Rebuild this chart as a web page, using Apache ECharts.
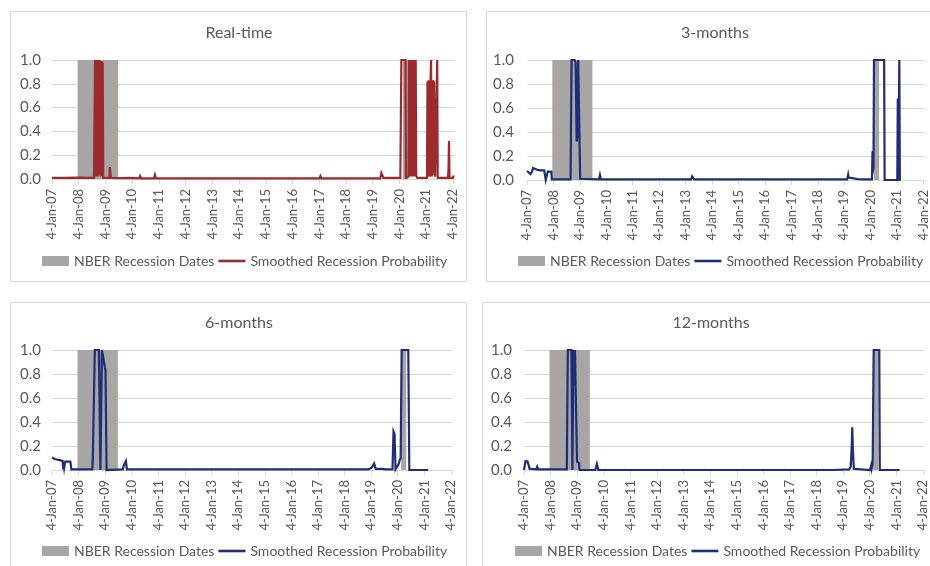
<!DOCTYPE html>
<html>
<head>
<meta charset="utf-8">
<script src="https://cdn.jsdelivr.net/npm/echarts@6/dist/echarts.min.js"></script>
<style>
  html, body { margin: 0; padding: 0; background: #ffffff; }
  #chart { width: 930px; height: 566px; }
</style>
</head>
<body>
<div id="chart"></div>
<script>
// ---- data -------------------------------------------------------------
const tickDates = ['2007-01-04','2008-01-04','2009-01-04','2010-01-04','2011-01-04','2012-01-04',
  '2013-01-04','2014-01-04','2015-01-04','2016-01-04','2017-01-04','2018-01-04','2019-01-04',
  '2020-01-04','2021-01-04','2022-01-04'];
const tickLabels = ['4-Jan-07','4-Jan-08','4-Jan-09','4-Jan-10','4-Jan-11','4-Jan-12','4-Jan-13',
  '4-Jan-14','4-Jan-15','4-Jan-16','4-Jan-17','4-Jan-18','4-Jan-19','4-Jan-20','4-Jan-21','4-Jan-22'];
const axisEndDate = '2022-02-01';

const panelTitles = ['Real-time', '3-months', '6-months', '12-months'];
const recessionName = 'NBER Recession Dates';
const probabilityName = 'Smoothed Recession Probability';

// NBER recession periods [start, end]
const recessionPeriods = [
  ['2007-12-20', '2009-06-26'],
  ['2020-02-20', '2020-04-30']
];

// smoothed recession probability, weekly observations [date, probability]
const realTime = [
  ['2007-01-04',0.01],['2007-06-14',0.01],['2007-06-21',0.015],['2007-06-28',0.01],['2008-01-10',0.012],['2008-01-17',0.008],
  ['2008-07-31',0.01],['2008-08-14',1.0],['2008-08-21',0.99],['2008-08-28',0.02],['2008-09-04',1.0],['2008-09-11',0.03],
  ['2008-09-18',1.0],['2008-09-25',0.02],['2008-10-02',1.0],['2008-10-09',0.04],['2008-10-16',1.0],['2008-10-23',0.03],
  ['2008-10-30',0.99],['2008-11-06',0.02],['2008-11-13',0.99],['2008-11-20',0.05],['2008-11-27',0.98],['2008-12-04',0.01],
  ['2009-02-26',0.01],['2009-03-05',0.1],['2009-03-12',0.1],['2009-03-19',0.01],
  ['2009-08-13',0.008],['2009-11-05',0.01],
  ['2010-04-08',0.005],['2010-04-22',0.025],['2010-05-06',0.005],
  ['2010-10-28',0.005],['2010-11-11',0.035],['2010-11-25',0.005],
  ['2011-07-28',0.005],['2011-08-11',0.015],['2011-08-25',0.005],
  ['2013-06-20',0.005],['2014-11-20',0.005],['2014-11-27',0.012],['2014-12-04',0.005],
  ['2015-07-09',0.005],['2015-07-16',0.012],['2015-07-23',0.005],
  ['2017-01-05',0.005],['2017-01-19',0.025],['2017-02-02',0.005],
  ['2019-04-18',0.005],['2019-05-02',0.05],['2019-05-16',0.03],['2019-05-30',0.01],
  ['2020-01-16',0.01],['2020-01-23',0.02],['2020-01-30',1.0],['2020-03-26',1.0],['2020-04-02',0.01],['2020-05-07',0.02],
  ['2020-05-14',1.0],['2020-05-21',1.0],['2020-05-28',0.02],['2020-06-04',1.0],['2020-06-11',0.03],['2020-06-18',1.0],
  ['2020-06-25',0.02],['2020-07-02',1.0],['2020-07-09',0.04],['2020-07-16',1.0],['2020-07-23',0.02],['2020-07-30',1.0],
  ['2020-08-06',0.05],['2020-08-13',1.0],['2020-08-20',0.03],['2020-09-03',0.01],
  ['2021-01-14',0.01],['2021-01-21',0.82],['2021-01-28',0.02],['2021-02-04',0.83],['2021-02-11',0.03],['2021-02-18',0.82],
  ['2021-02-25',0.02],['2021-03-04',0.83],['2021-03-11',1.0],['2021-03-18',0.02],['2021-03-25',0.83],['2021-04-01',0.03],
  ['2021-04-08',0.83],['2021-04-15',0.05],['2021-04-22',0.82],['2021-04-29',0.3],['2021-05-06',0.02],['2021-05-27',0.01],
  ['2021-06-03',1.0],['2021-06-10',0.01],
  ['2021-10-28',0.01],['2021-11-04',0.07],['2021-11-11',0.32],['2021-11-18',0.01],['2022-01-06',0.01],['2022-01-13',0.03]
];

const threeMonths = [
  ['2007-01-04',0.075],['2007-01-25',0.065],['2007-02-22',0.05],['2007-03-15',0.07],['2007-03-29',0.1],['2007-04-19',0.09],
  ['2007-05-24',0.085],['2007-07-05',0.08],['2007-08-30',0.08],['2007-09-13',0.075],['2007-09-20',0.0],['2007-10-04',0.005],
  ['2007-10-18',0.07],['2007-12-06',0.07],['2007-12-13',0.005],
  ['2008-03-06',0.005],['2008-08-28',0.005],['2008-09-11',1.0],['2008-10-23',1.0],['2008-11-06',0.98],['2008-11-20',0.32],
  ['2008-11-27',0.35],['2008-12-11',1.0],['2008-12-25',1.0],['2009-01-08',0.01],
  ['2009-09-24',0.005],['2009-10-08',0.042],['2009-10-22',0.005],
  ['2010-06-17',0.005],['2010-07-01',0.01],['2010-07-15',0.005],
  ['2013-03-21',0.005],['2013-04-04',0.03],['2013-04-18',0.02],['2013-05-02',0.005],
  ['2015-03-19',0.005],['2015-04-02',0.01],['2015-04-16',0.005],
  ['2019-02-14',0.005],['2019-02-28',0.045],['2019-03-07',0.02],['2019-04-25',0.015],['2019-07-11',0.008],['2019-09-26',0.005],
  ['2020-01-23',0.005],['2020-01-30',0.24],['2020-02-06',0.08],['2020-02-13',0.1],['2020-02-20',1.0],['2020-07-09',1.0],
  ['2020-07-16',0.0],
  ['2021-01-07',0.0],['2021-01-14',0.68],['2021-01-21',0.0],['2021-02-04',1.0],['2021-02-11',0.0],['2021-02-25',0.0]
];

const sixMonths = [
  ['2007-01-04',0.105],['2007-02-08',0.092],['2007-03-22',0.085],['2007-05-03',0.08],['2007-05-31',0.075],['2007-06-07',0.005],
  ['2007-06-14',0.06],['2007-06-21',0.02],['2007-06-28',0.02],['2007-07-05',0.07],['2007-09-13',0.07],['2007-09-27',0.005],
  ['2008-01-03',0.005],['2008-01-17',0.01],['2008-01-31',0.005],
  ['2008-07-10',0.005],['2008-07-17',0.08],['2008-08-07',0.09],['2008-08-14',1.0],['2008-10-09',1.0],['2008-10-16',0.99],
  ['2008-10-30',0.0],['2008-11-20',1.0],['2008-12-04',1.0],['2009-01-01',0.85],['2009-01-08',0.83],['2009-01-22',0.0],
  ['2009-09-03',0.005],['2009-09-17',0.04],['2009-10-15',0.075],['2009-10-29',0.005],
  ['2010-07-01',0.005],['2010-07-15',0.008],['2010-07-29',0.005],
  ['2013-03-21',0.005],['2013-04-04',0.015],['2013-04-18',0.005],
  ['2015-03-12',0.005],['2015-03-26',0.008],['2015-04-09',0.005],
  ['2018-11-29',0.005],['2018-12-13',0.015],['2019-01-10',0.02],['2019-02-14',0.055],['2019-03-07',0.01],['2019-05-30',0.01],
  ['2019-06-13',0.015],['2019-07-25',0.005],
  ['2019-10-24',0.005],['2019-11-07',0.32],['2019-11-21',0.3],['2019-12-05',0.005],['2020-01-16',0.05],['2020-01-30',0.08],
  ['2020-02-13',0.1],['2020-02-27',1.0],['2020-05-28',1.0],['2020-06-11',0.0],
  ['2021-02-25',0.0]
];

const twelveMonths = [
  ['2007-01-04',0.0],['2007-01-25',0.075],['2007-02-22',0.072],['2007-03-22',0.01],['2007-06-21',0.005],['2007-07-05',0.028],
  ['2007-07-19',0.005],
  ['2008-01-03',0.005],['2008-01-17',0.01],['2008-01-31',0.005],
  ['2008-08-14',0.005],['2008-08-28',1.0],['2008-10-16',1.0],['2008-10-23',0.99],['2008-10-30',0.0],['2008-11-13',1.0],
  ['2008-11-20',0.74],['2008-11-27',0.76],['2008-12-04',1.0],['2008-12-18',1.0],['2009-01-01',0.07],['2009-01-29',0.06],
  ['2009-02-05',0.0],
  ['2009-09-10',0.0],['2009-10-01',0.05],['2009-10-08',0.045],['2009-10-22',0.0],
  ['2013-03-21',0.0],['2013-04-04',0.008],['2013-04-18',0.0],
  ['2015-03-12',0.0],['2015-03-26',0.01],['2015-04-09',0.0],
  ['2018-07-26',0.0],['2018-08-09',0.005],['2018-08-23',0.0],
  ['2019-03-28',0.005],['2019-04-18',0.03],['2019-05-02',0.2],['2019-05-09',0.356],['2019-05-16',0.2],['2019-05-30',0.01],
  ['2019-06-13',0.0],
  ['2020-01-09',0.0],['2020-01-23',0.035],['2020-01-30',0.01],['2020-02-13',0.05],['2020-02-27',1.0],['2020-05-14',1.0],
  ['2020-05-21',0.0],
  ['2021-02-18',0.0]
];

const panelSeries = [realTime, threeMonths, sixMonths, twelveMonths];

// ---- styling / layout --------------------------------------------------
const FONT = 'Lato';
const TEXT = '#595959';
const GRID_LINE = '#D9D9D9';
const RECESSION_GRAY = '#A8A5A5';
const lineColors = ['#9B2B2F', '#1F2C78', '#1F2C78', '#1F2C78'];
const LINE_ICON = 'path://M0,0H25V2.4H0Z';

// one entry per panel: frame box, plot box, title centre, legend origin
const layout = [
  { frame: [10, 11, 456, 270], plot: [52, 60, 403, 119], title: [239, 25], legend: [42, 254], yMargin: 11 },
  { frame: [486, 11, 470, 270], plot: [527, 60, 402, 120], title: [715, 25], legend: [518, 254], yMargin: 13 },
  { frame: [10, 302, 456, 300], plot: [52, 350, 401, 120], title: [239, 315], legend: [42, 544], yMargin: 11 },
  { frame: [482, 302, 470, 300], plot: [524, 350, 401, 120], title: [711, 315], legend: [515, 544], yMargin: 12 }
];

const toTime = d => new Date(d + 'T00:00:00Z').getTime();
const tickTimes = tickDates.map(toTime);
const labelByTime = {};
tickTimes.forEach((t, i) => { labelByTime[t] = tickLabels[i]; });

// recession shading as a stepped filled outline
const recessionData = [];
recessionPeriods.forEach(([s, e]) => {
  recessionData.push([toTime(s), 0], [toTime(s), 1], [toTime(e), 1], [toTime(e), 0]);
});

const option = {
  animation: false,
  backgroundColor: '#ffffff',
  textStyle: { fontFamily: FONT },
  title: [], grid: [], xAxis: [], yAxis: [], legend: [], series: [],
  graphic: []
};

const legendText = {};

layout.forEach((p, i) => {
  const [fx, fy, fw, fh] = p.frame;
  option.graphic.push({
    type: 'rect', silent: true, z: -10,
    shape: { x: fx + 0.5, y: fy + 0.5, width: fw, height: fh },
    style: { fill: 'none', stroke: GRID_LINE, lineWidth: 1 }
  });

  option.title.push({
    text: panelTitles[i], left: p.title[0], top: p.title[1], textAlign: 'center',
    padding: 0,
    textStyle: { fontFamily: FONT, fontSize: 16, fontWeight: 'normal', color: TEXT }
  });

  const [gx, gy, gw, gh] = p.plot;
  option.grid.push({ left: gx, top: gy, width: gw, height: gh, containLabel: false });

  option.xAxis.push({
    type: 'value', gridIndex: i,
    min: tickTimes[0], max: toTime(axisEndDate),
    splitLine: { show: false },
    axisLine: { show: true, lineStyle: { color: GRID_LINE, width: 1 } },
    axisTick: { show: true, length: 5, lineStyle: { color: GRID_LINE }, customValues: tickTimes },
    axisLabel: {
      customValues: tickTimes, rotate: 90, margin: 10,
      fontFamily: FONT, fontSize: 13, color: TEXT,
      formatter: v => labelByTime[v] || ''
    }
  });

  option.yAxis.push({
    type: 'value', gridIndex: i, min: 0, max: 1, interval: 0.2,
    axisLine: { show: false }, axisTick: { show: false },
    splitLine: { show: true, lineStyle: { color: GRID_LINE, width: 1 } },
    axisLabel: {
      margin: p.yMargin, fontFamily: FONT, fontSize: 15, color: TEXT,
      formatter: v => v.toFixed(1)
    }
  });

  const recName = recessionName + ' (' + panelTitles[i] + ')';
  const probName = probabilityName + ' (' + panelTitles[i] + ')';
  legendText[recName] = recessionName;
  legendText[probName] = probabilityName;

  option.series.push({
    name: recName, type: 'line', xAxisIndex: i, yAxisIndex: i,
    data: recessionData, symbol: 'none', silent: true, clip: false,
    color: RECESSION_GRAY,
    lineStyle: { width: 0 },
    areaStyle: { color: RECESSION_GRAY, opacity: 1 },
    z: 1
  });

  option.series.push({
    name: probName, type: 'line', xAxisIndex: i, yAxisIndex: i,
    data: panelSeries[i].map(([d, v]) => [toTime(d), v]),
    symbol: 'none', clip: false, color: lineColors[i],
    lineStyle: { width: 2.2, color: lineColors[i], join: 'miter' },
    z: 3
  });

  option.legend.push({
    left: p.legend[0], top: p.legend[1], padding: 0, width: 460,
    itemWidth: 27, itemHeight: 10, itemGap: 4,
    selectedMode: false,
    data: [
      { name: recName, icon: 'rect' },
      { name: probName, icon: LINE_ICON, itemStyle: { color: lineColors[i] } }
    ],
    formatter: n => legendText[n],
    textStyle: { fontFamily: FONT, fontSize: 14, color: TEXT }
  });
});

const chart = echarts.init(document.getElementById('chart'), null, { renderer: 'canvas' });
chart.setOption(option);
</script>
</body>
</html>
